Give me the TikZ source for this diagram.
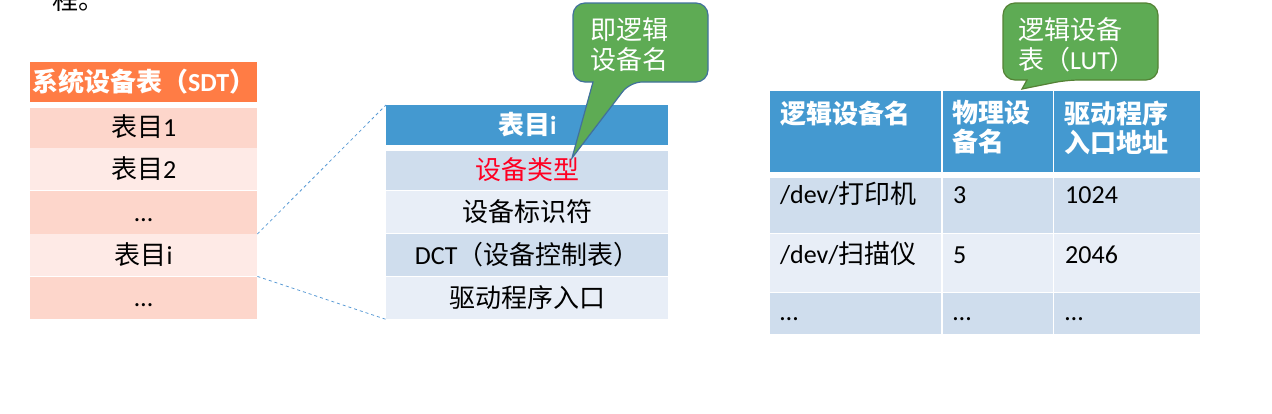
\documentclass[tikz,border=0pt]{standalone}
\usepackage{fontspec}
\setmainfont{Noto Sans CJK SC}
\newfontfamily\lat{Carlito}
\definecolor{sdthead}{HTML}{FF7C45}
\definecolor{sdtA}{HTML}{FDD6CB}
\definecolor{sdtB}{HTML}{FEEAE6}
\definecolor{bhead}{HTML}{4499D0}
\definecolor{bA}{HTML}{CFDDED}
\definecolor{bB}{HTML}{E8EEF7}
\definecolor{cgreen}{HTML}{5EAB54}
\definecolor{cedgeA}{HTML}{41719C}
\definecolor{cedgeB}{HTML}{548235}
\definecolor{dashblue}{HTML}{5B9BD5}
\definecolor{redtxt}{HTML}{FF0022}
\begin{document}
\begin{tikzpicture}[x=1pt,y=-1pt,
  cell/.style={rectangle, inner sep=0pt, anchor=north west, draw=none,
    font=\fontsize{26}{30}\selectfont, text height=22pt, text depth=4pt},
  hcell/.style={cell, text=white, font=\fontsize{26}{30}\selectfont\bfseries},
  lrow/.style={cell, minimum width=227pt, minimum height=#1},
  mrow/.style={cell, minimum width=282pt, minimum height=#1},
  txt/.style={inner sep=0pt, font=\fontsize{26}{30}\selectfont},
  htxt/.style={txt, text=white, font=\fontsize{26}{29}\selectfont\bfseries, align=left, anchor=north west},
  ctxt/.style={txt, text=white, align=left, anchor=north west},
  btxt/.style={txt, anchor=base west},
  dashline/.style={draw=dashblue, dashed, line width=0.8pt},
  callout/.style={fill=cgreen, line width=1.2pt}
]
\useasboundingbox (0,0) rectangle (1272,413);

% cut-off text at the top
\node[txt, anchor=base west] (top) at (52,9.5) {程。};

% ---- System device table ----
\node[hcell, minimum width=227pt, minimum height=40pt, fill=sdthead] (sdt) at (30,62) {系统设备表（{\lat SDT}）};
\node[lrow=39.5pt, fill=sdtA] (l1) at (30,108) {表目{\lat 1}};
\node[lrow=42pt, fill=sdtB] (l2) at (30,148) {表目{\lat 2}};
\node[lrow=42.5pt, fill=sdtA] (l3) at (30,191) {{\lat …}};
\node[lrow=42pt, fill=sdtB] (l4) at (30,234) {表目{\lat i}};
\node[lrow=41.5pt, fill=sdtA] (l5) at (30,277) {{\lat …}};

% ---- Entry i ----
\node[hcell, minimum width=282pt, minimum height=40pt, fill=bhead] (mh) at (386,105) {表目{\lat i}};
\node[mrow=39pt, fill=bA, text=redtxt] (m1) at (386,151) {设备类型};
\node[mrow=42pt, fill=bB] (m2) at (386,191) {设备标识符};
\node[mrow=42pt, fill=bA] (m3) at (386,234) {{\lat DCT}（设备控制表）};
\node[mrow=42pt, fill=bB] (m4) at (386,277) {驱动程序入口};

\draw[dashline] (l4.north east) -- (mh.north west);
\draw[dashline] (l4.south east) -- (m4.south west);

% ---- callout 1 ----
\coordinate (tipA) at (572,158);
\draw[callout, draw=cedgeA] (593,82) [rounded corners=12pt] -| (573,3) -| (708,82) -- (630,82) [sharp corners] -- (tipA) -- cycle;
\node[ctxt] (cA) at (590,17) {即逻辑\\设备名};

% ---- LUT ----
\node[cell, minimum width=171pt, minimum height=81pt, fill=bhead] (h1) at (770,91) {};
\node[cell, minimum width=110pt, minimum height=81pt, fill=bhead] (h2) at (943,91) {};
\node[cell, minimum width=146pt, minimum height=81pt, fill=bhead] (h3) at (1054,91) {};
\node[cell, minimum width=171pt, minimum height=54.5pt, fill=bA] (a1) at (770,178) {};
\node[cell, minimum width=110pt, minimum height=54.5pt, fill=bA] (a2) at (943,178) {};
\node[cell, minimum width=146pt, minimum height=54.5pt, fill=bA] (a3) at (1054,178) {};
\node[cell, minimum width=171pt, minimum height=58.5pt, fill=bB] (b1) at (770,233.5) {};
\node[cell, minimum width=110pt, minimum height=58.5pt, fill=bB] (b2) at (943,233.5) {};
\node[cell, minimum width=146pt, minimum height=58.5pt, fill=bB] (b3) at (1054,233.5) {};
\node[cell, minimum width=171pt, minimum height=40.5pt, fill=bA] (c1) at (770,293) {};
\node[cell, minimum width=110pt, minimum height=40.5pt, fill=bA] (c2) at (943,293) {};
\node[cell, minimum width=146pt, minimum height=40.5pt, fill=bA] (c3) at (1054,293) {};

\node[htxt] (t11) at (780,100.5) {逻辑设备名};
\node[htxt] (t12) at (952,100.5) {物理设\\备名};
\node[htxt] (t13) at (1064,100.5) {驱动程序\\入口地址};

\node[btxt] (t21) at (780,203) {{\lat /dev/}打印机};
\node[btxt] (t22) at (953,203) {{\lat 3}};
\node[btxt] (t23) at (1065,203) {{\lat 1024}};
\node[btxt] (t31) at (780,263) {{\lat /dev/}扫描仪};
\node[btxt] (t32) at (953,263) {{\lat 5}};
\node[btxt] (t33) at (1065,263) {{\lat 2046}};
\node[btxt] (t41) at (780,320) {{\lat …}};
\node[btxt] (t42) at (953,320) {{\lat …}};
\node[btxt] (t43) at (1065,320) {{\lat …}};

% ---- callout 2 ----
\coordinate (tipB) at (1022,89);
\draw[callout, draw=cedgeB] (1027,80) [rounded corners=12pt] -| (1003,3) -| (1158,80) -- (1067,80) [sharp corners] -- (tipB) -- cycle;
\node[ctxt] (cB) at (1018,17) {逻辑设备\\表（{\lat LUT}）};
\end{tikzpicture}
\end{document}
